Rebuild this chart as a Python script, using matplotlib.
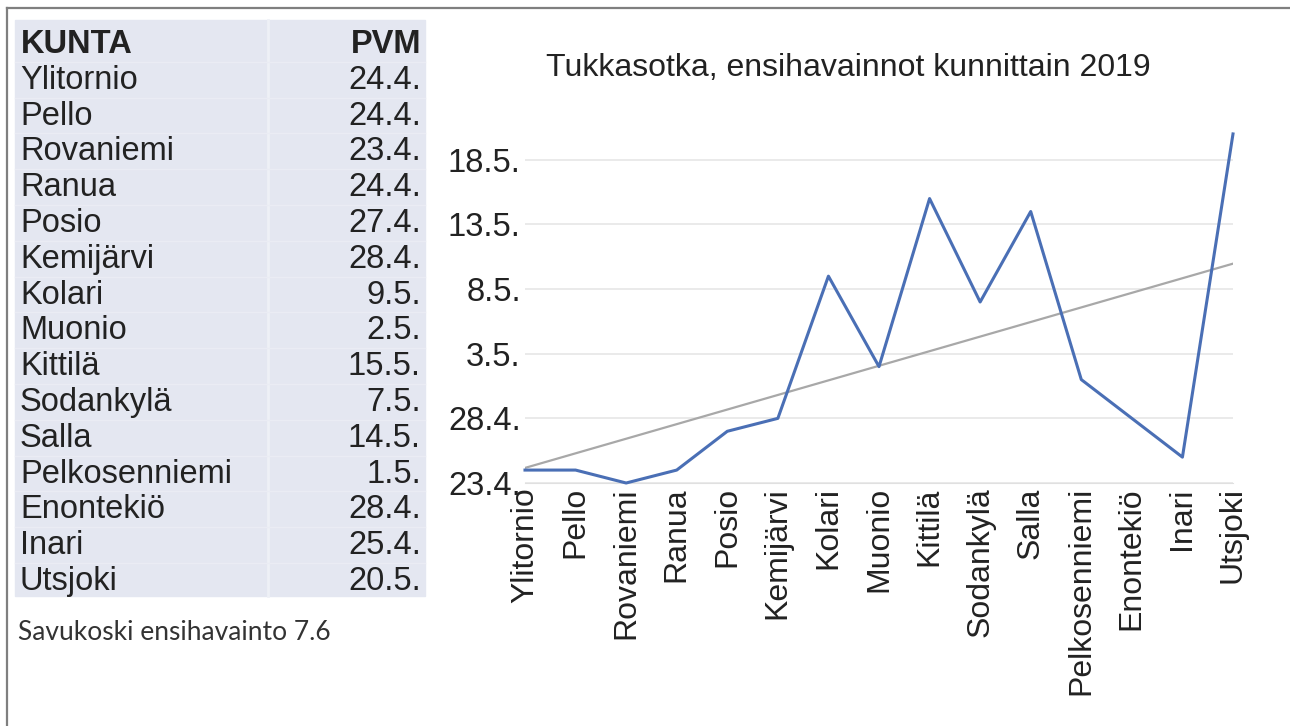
"""Tukkasotka first sightings by municipality, 2019: table + line chart."""

from datetime import date, timedelta

import matplotlib

matplotlib.use("Agg")
import matplotlib.pyplot as plt
import numpy as np
from matplotlib.patches import Rectangle

KUNTA = ["Ylitornio", "Pello", "Rovaniemi", "Ranua", "Posio", "Kemijärvi",
         "Kolari", "Muonio", "Kittilä", "Sodankylä", "Salla", "Pelkosenniemi",
         "Enontekiö", "Inari", "Utsjoki"]
PVM = ["24.4.", "24.4.", "23.4.", "24.4.", "27.4.", "28.4.", "9.5.", "2.5.",
       "15.5.", "7.5.", "14.5.", "1.5.", "28.4.", "25.4.", "20.5."]
Y_TICKS = ["23.4.", "28.4.", "3.5.", "8.5.", "13.5.", "18.5."]
TITLE = "Tukkasotka, ensihavainnot kunnittain 2019"
NOTE = "Savukoski ensihavainto 7.6"
YEAR = 2019

W, H = 1290, 726
FONT = ["Liberation Sans", "DejaVu Sans"]
TABLE_BG = "#e4e7f1"
LINE_BLUE = "#4a6fb5"
TEXT = "#222222"


def day_number(text):
    day, month = [int(part) for part in text.strip(".").split(".")]
    return (date(YEAR, month, day) - date(YEAR, 1, 1)).days + 1


def day_label(n):
    d = date(YEAR, 1, 1) + timedelta(days=int(n) - 1)
    return f"{d.day}.{d.month}."


def fx(px):
    return px / W


def fy(py):
    return 1 - py / H


def draw_table(fig):
    fig.patches.append(Rectangle((fx(15), fy(596)), fx(410), 576 / H,
                                 transform=fig.transFigure, color=TABLE_BG, zorder=0))
    fig.add_artist(plt.Line2D([fx(268), fx(268)], [fy(20), fy(596)],
                              transform=fig.transFigure, color="#eef0f6", lw=2, zorder=1))
    step = 35.8
    base = 53
    fig.text(fx(21), fy(base), "KUNTA", fontsize=23.5, fontweight="bold",
             family=FONT, va="baseline", ha="left", color=TEXT)
    fig.text(fx(421), fy(base), "PVM", fontsize=23.5, fontweight="bold",
             family=FONT, va="baseline", ha="right", color=TEXT)
    for i, (name, pvm) in enumerate(zip(KUNTA, PVM), start=1):
        y = base + i * step
        fig.add_artist(plt.Line2D([fx(15), fx(425)], [fy(y - 27), fy(y - 27)],
                                  transform=fig.transFigure, color="#eaecf4",
                                  lw=1, zorder=1))
        fig.text(fx(20), fy(y), name, fontsize=23.5, family=FONT,
                 va="baseline", ha="left", color=TEXT)
        fig.text(fx(421), fy(y), pvm, fontsize=23.5, family=FONT,
                 va="baseline", ha="right", color=TEXT)
    fig.text(fx(18), fy(633), NOTE, fontsize=19, family=["Lato", "DejaVu Sans"],
             va="center", ha="left", color="#333333")


def draw_chart(fig):
    days = np.array([day_number(p) for p in PVM])
    x = np.arange(len(KUNTA))
    ticks = [day_number(t) for t in Y_TICKS]

    ax = fig.add_axes([fx(525), fy(483), fx(1233 - 525), (483 - 121) / H])
    ax.set_xlim(0, len(KUNTA) - 1)
    ax.set_ylim(ticks[0], ticks[0] + 28)
    ax.set_yticks(ticks, [day_label(t) for t in ticks])
    ax.set_xticks(x, KUNTA, rotation=90)
    ax.tick_params(length=0, labelsize=23.5, labelcolor=TEXT, pad=3)
    ax.tick_params(axis="x", labelsize=23)
    for label in ax.get_xticklabels() + ax.get_yticklabels():
        label.set_family(FONT)
    ax.grid(axis="y", color="#e6e6e6", lw=1.2)
    ax.set_axisbelow(True)
    for side in ("top", "right", "left"):
        ax.spines[side].set_visible(False)
    ax.spines["bottom"].set_color("#e0e0e0")
    ax.patch.set_alpha(0)

    slope, intercept = np.polyfit(x, days, 1)
    ax.plot(x, slope * x + intercept, color="#a8a8a8", lw=1.6, zorder=2)
    ax.plot(x, days, color=LINE_BLUE, lw=2.2, zorder=3, clip_on=False)

    fig.text(fx(848), fy(68), TITLE, fontsize=23, family=FONT,
             ha="center", va="center", color=TEXT)


def main():
    fig = plt.figure(figsize=(W / 100, H / 100), dpi=100)
    fig.patch.set_facecolor("white")
    fig.add_artist(plt.Line2D([fx(7), fx(W)], [fy(8), fy(8)],
                              transform=fig.transFigure, color="#7f7f7f", lw=1.6))
    fig.add_artist(plt.Line2D([fx(7), fx(7)], [fy(8), fy(H)],
                              transform=fig.transFigure, color="#7f7f7f", lw=1.6))
    draw_table(fig)
    draw_chart(fig)
    fig.savefig("out.png", dpi=100)
    plt.close(fig)


if __name__ == "__main__":
    main()
